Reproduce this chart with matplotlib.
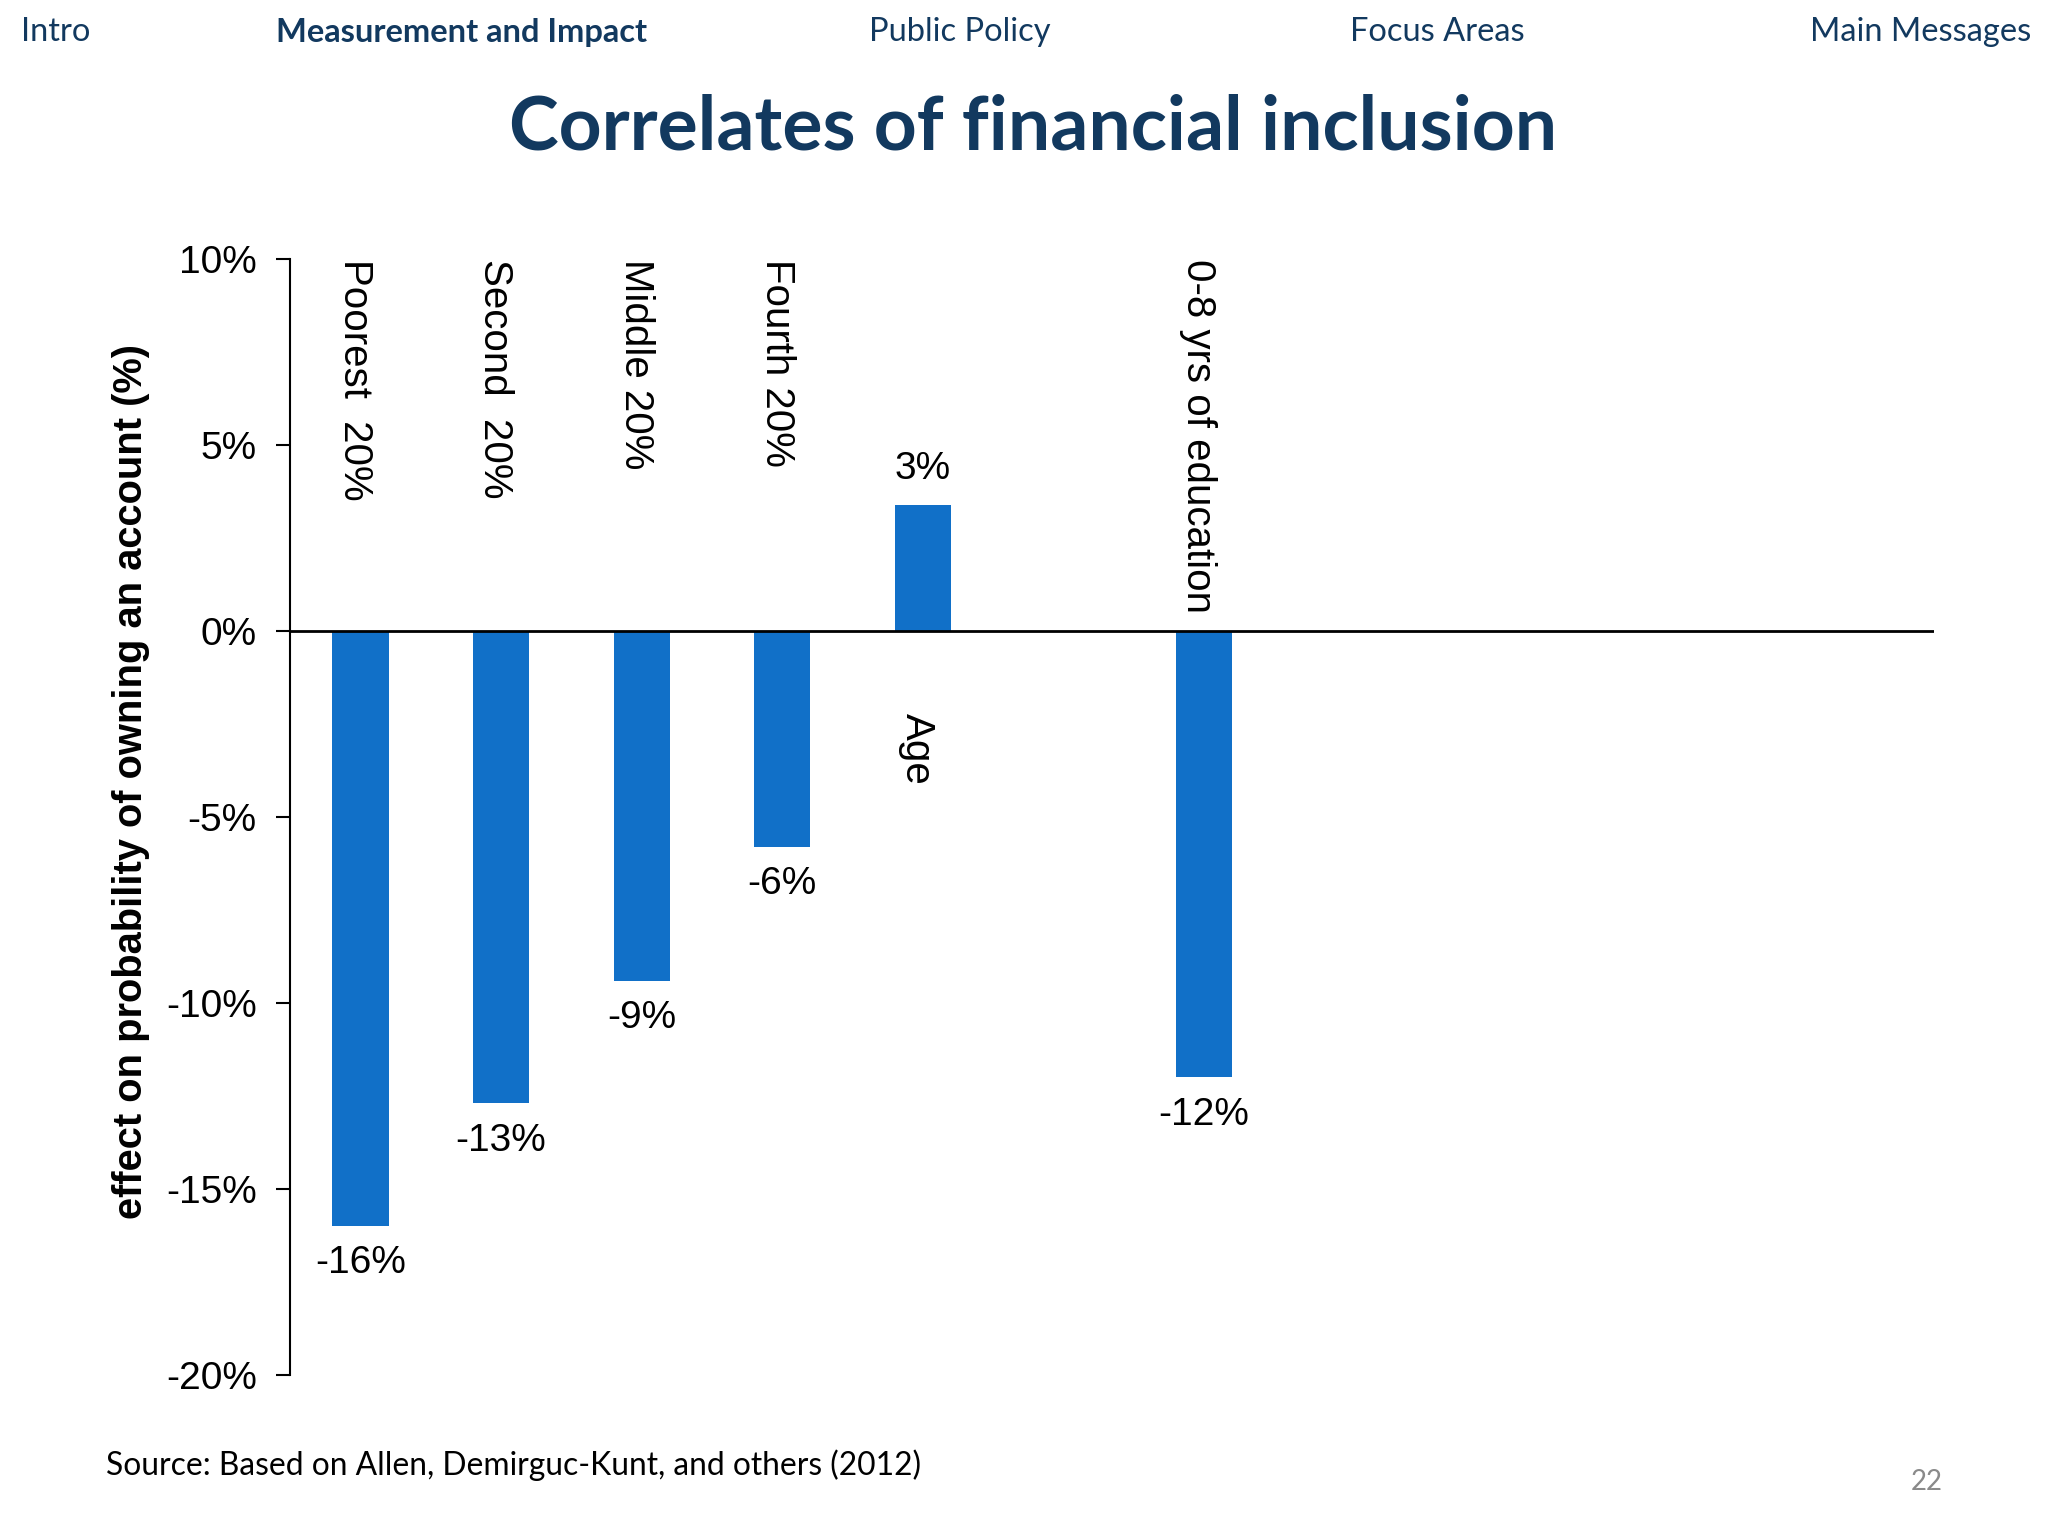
import matplotlib.pyplot as plt
import numpy as np

# data
categories = ['Poorest  20%', 'Second  20%', 'Middle 20%', 'Fourth 20%', 'Age', '0-8 yrs of education']
positions = [0.5, 1.5, 2.5, 3.5, 4.5, 6.5]
values = [-16.0, -12.7, -9.4, -5.8, 3.4, -12.0]
yticks = [-20, -15, -10, -5, 0, 5, 10]
nav_items = ['Intro', 'Measurement and Impact', 'Public Policy', 'Focus Areas', 'Main Messages']

navy = '#12395f'
blue = '#1170c8'

fig = plt.figure(figsize=(20.48, 15.36), dpi=100)
fig.patch.set_facecolor('white')
ax = fig.add_axes([0.1417, 0.1048, 0.8025, 0.7266])

ax.bar(positions, values, width=0.4, color=blue, zorder=2)
ax.axhline(0, color='black', lw=2, zorder=3)

ax.set_xlim(0, 11.69)
ax.set_ylim(-20, 10)
ax.set_yticks(yticks)
ax.set_yticklabels([f'{t}%' for t in yticks], fontsize=28, family='Liberation Sans')
ax.set_xticks([])
ax.tick_params(axis='y', length=10, width=1.5, pad=14)
for s in ['top', 'right', 'bottom']:
    ax.spines[s].set_visible(False)
ax.spines['left'].set_linewidth(1.5)

# value labels
for x, v in zip(positions, values):
    off = -1.0 if v < 0 else 0.95
    ax.text(x, v + off, f'{round(v):.0f}%', ha='center', va='center',
            fontsize=28, family='Liberation Sans')

# category labels (rotated, reading downward)
for x, v, c in zip(positions, values, categories):
    y = 10 if v < 0 else -2.2
    ax.text(x - 0.04, y, c, rotation=270, ha='center', va='top',
            fontsize=29, family='Liberation Sans')

fig.text(0.064, 0.491, 'effect on probability of owning an account (%)',
         rotation=90, ha='center', va='center', fontsize=28.7,
         fontweight='bold', family='Liberation Sans')

# slide header
nav_x = [0.0103, 0.135, 0.4245, 0.659, 0.992]
for i, (nx, t) in enumerate(zip(nav_x, nav_items)):
    fig.text(nx, 0.979, t, ha='right' if i == 4 else 'left', va='center',
             fontsize=23.5, color=navy, family='Lato',
             fontweight='bold' if i == 1 else 'normal')

fig.text(0.5046, 0.9166, 'Correlates of financial inclusion', ha='center', va='center',
         fontsize=54, fontweight='bold', color=navy, family='Lato')

fig.text(0.0516, 0.0463, 'Source: Based on Allen, Demirguc-Kunt, and others (2012)',
         ha='left', va='center', fontsize=22.9, family='Lato')
fig.text(0.941, 0.035, '22', ha='center', va='center', fontsize=20,
         color='#8a8a8a', family='Lato')

fig.savefig('out.png', dpi=100)
